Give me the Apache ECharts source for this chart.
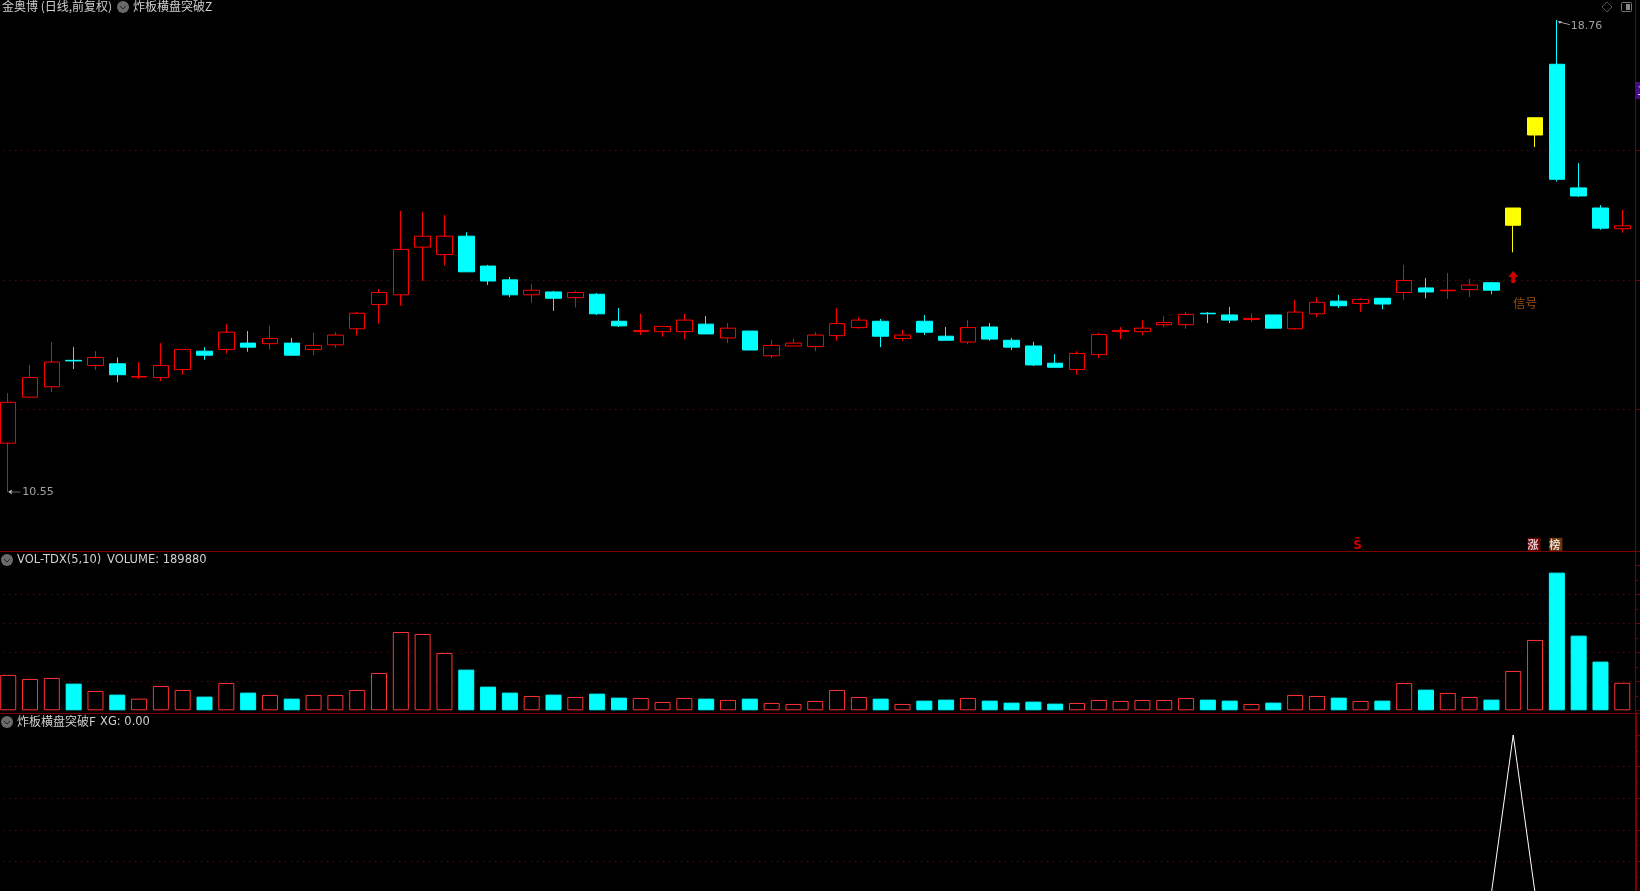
<!DOCTYPE html>
<html>
<head>
<meta charset="utf-8">
<title>金奥博</title>
<style>
	html, body { margin: 0; padding: 0; background: #000; }
	#chart { width: 1640px; height: 891px; }
</style>
<script src="https://cdn.jsdelivr.net/npm/echarts@6/dist/echarts.min.js"></script>
</head>
<body>
<div id="chart"></div>
<script>
// daily candles
const opens = [11.40,12.20,12.38,12.84,12.75,12.78,12.55,12.54,12.68,13.00,13.03,13.14,13.13,13.14,13.03,13.11,13.39,13.81,13.98,14.81,14.68,15.00,14.48,14.24,13.98,14.03,13.93,13.99,13.52,13.34,13.34,13.34,13.47,13.23,13.35,12.92,13.09,13.08,13.27,13.41,13.52,13.22,13.52,13.26,13.16,13.42,13.19,13.09,12.79,12.68,12.94,13.34,13.34,13.46,13.46,13.66,13.63,13.55,13.63,13.39,13.65,13.87,13.83,13.92,14.02,14.10,14.05,14.07,14.19,15.19,16.76,17.99,15.84,15.49,15.13]
const closes = [12.11,12.54,12.81,12.83,12.89,12.59,12.56,12.75,13.03,12.93,13.33,13.07,13.22,12.93,13.10,13.28,13.66,14.02,14.77,15.00,15.00,14.38,14.22,13.98,14.06,13.92,14.02,13.65,13.44,13.36,13.43,13.54,13.30,13.40,13.02,13.10,13.14,13.28,13.48,13.54,13.26,13.28,13.33,13.19,13.41,13.21,13.07,12.76,12.72,12.96,13.29,13.36,13.40,13.50,13.64,13.65,13.54,13.57,13.40,13.68,13.85,13.79,13.90,13.82,14.23,14.03,14.06,14.15,14.06,15.49,17.06,15.99,15.70,15.14,15.18]
const lows = [10.55,12.20,12.29,12.69,12.67,12.46,12.52,12.48,12.59,12.85,12.96,12.99,13.03,12.93,12.93,13.06,13.27,13.48,13.79,14.22,14.49,14.38,14.15,13.94,13.84,13.70,13.76,13.63,13.42,13.28,13.25,13.21,13.30,13.14,13.02,12.88,13.09,13.00,13.18,13.39,13.07,13.18,13.28,13.19,13.12,13.18,13.02,12.74,12.72,12.59,12.88,13.21,13.28,13.42,13.39,13.49,13.49,13.51,13.39,13.37,13.59,13.75,13.68,13.73,13.89,13.92,13.91,13.94,13.99,14.72,16.55,15.95,15.68,15.11,15.06]
const highs = [12.27,12.76,13.16,13.07,13.00,12.89,12.81,13.14,13.03,13.07,13.47,13.35,13.44,13.23,13.32,13.33,13.68,14.08,15.44,15.42,15.37,15.07,14.50,14.29,14.17,14.05,14.05,14.01,13.75,13.65,13.43,13.65,13.61,13.49,13.35,13.19,13.21,13.33,13.75,13.59,13.56,13.37,13.63,13.42,13.54,13.49,13.23,13.16,12.95,13.00,13.32,13.42,13.54,13.61,13.68,13.68,13.77,13.66,13.63,13.89,13.94,13.98,13.92,13.92,14.50,14.27,14.36,14.26,14.20,15.49,17.06,18.76,16.27,15.54,15.46]
const volumes = [243800,216100,223000,183900,133300,108000,80500,167800,140200,94300,188500,121800,105800,80500,105800,105800,140200,257500,540200,526500,395400,280500,163200,121800,98900,108000,92000,115000,87400,85100,57500,85100,80500,71300,80500,50600,43700,64400,140200,92000,80500,43700,66700,73600,85100,66700,52900,59800,46000,50600,71300,64400,71300,71300,85100,73600,66700,43700,52900,105800,98900,87400,64400,66700,188500,142500,119600,92000,73600,271300,485100,949400,514900,335700,189880]
const xgValues = [0,0,0,0,0,0,0,0,0,0,0,0,0,0,0,0,0,0,0,0,0,0,0,0,0,0,0,0,0,0,0,0,0,0,0,0,0,0,0,0,0,0,0,0,0,0,0,0,0,0,0,0,0,0,0,0,0,0,0,0,0,0,0,0,0,0,0,0,0,1,0,0,0,0,0]
const days = opens.map((v, i) => i)

const priceLevels = [11.99, 14.23, 16.49]
const limitUpDays = [69, 70]
const signalDay = 69
const signalPrice = 14.29
const lowDay = 0
const lowPrice = 10.55
const highDay = 71
const highPrice = 18.76
const stripPrice = 9.64
const sDay = 62
const zhangDay = 70
const bangDay = 71

const RED = '#ff0000'
const CYAN = '#00ffff'
const YELLOW = '#ffff00'
const VOL_RED = '#ff3232'
const DARK_RED = '#800000'
const FONT = '"Noto Sans CJK SC", "Noto Sans", sans-serif'
const LATIN = '"DejaVu Sans", sans-serif'

const dotStyle = { type: [1, 5], color: '#990000', width: 1 }
const dotted = { show: true, showMinLine: false, showMaxLine: false, lineStyle: dotStyle }

const candles = days.map(i => {
	const item = { value: [opens[i], closes[i], lows[i], highs[i]] }
	if (limitUpDays.includes(i)) {
		item.itemStyle = { color: YELLOW, borderColor: YELLOW }
	}
	return item
})

const volumeBars = days.map(i => {
	const up = closes[i] >= opens[i]
	return {
		value: volumes[i],
		itemStyle: up
			? { color: '#000', borderColor: VOL_RED, borderWidth: 1 }
			: { color: CYAN, borderColor: CYAN, borderWidth: 1 }
	}
})

// small round chevron button in front of the pane titles
function chevron(x, y) {
	return [
		{ type: 'circle', shape: { cx: x, cy: y, r: 6 }, style: { fill: '#6a6a6a' } },
		{ type: 'polyline', shape: { points: [[x - 3, y - 1], [x, y + 2], [x + 3, y - 1]] }, style: { stroke: '#222', lineWidth: 1, fill: null } }
	]
}

function rule(x1, y1, x2, y2, width) {
	return { type: 'line', shape: { x1, y1, x2, y2 }, style: { stroke: DARK_RED, lineWidth: width || 1 }, z: 20 }
}

const titleStyle = { color: '#d0d0d0', fontSize: 12, fontFamily: FONT, fontWeight: 'normal' }
const latinTitle = { color: '#d0d0d0', fontSize: 11.5, fontFamily: LATIN, fontWeight: 'normal' }

const option = {
	backgroundColor: '#000',
	animation: false,
	title: [
		{ text: '金奥博 (日线,前复权)', left: 2, top: 0, padding: 0, textStyle: titleStyle },
		{ text: '炸板横盘突破Z', left: 133, top: 0, padding: 0, textStyle: titleStyle },
		{ text: 'VOL-TDX(5,10)', left: 17, top: 554, padding: 0, textStyle: latinTitle },
		{ text: 'VOLUME: 189880', left: 107, top: 554, padding: 0, textStyle: latinTitle },
		{ text: '炸板横盘突破F', left: 17, top: 715, padding: 0, textStyle: titleStyle },
		{ text: 'XG: 0.00', left: 100, top: 716, padding: 0, textStyle: latinTitle }
	],
	grid: [
		{ left: -2.7, width: 1635.9, top: 0, height: 551, outerBoundsMode: 'none' },
		{ left: -2.7, width: 1635.9, top: 565.3, height: 145, outerBoundsMode: 'none' },
		{ left: -2.7, width: 1635.9, top: 735, height: 158, outerBoundsMode: 'none' }
	],
	xAxis: [0, 1, 2].map(g => ({
		type: 'category',
		gridIndex: g,
		data: days,
		boundaryGap: true,
		show: false
	})),
	yAxis: [
		{
			type: 'value',
			gridIndex: 0,
			position: 'right',
			offset: 2,
			min: 9.524,
			max: 19.108,
			axisLine: { show: false },
			axisTick: { show: true, length: 5, customValues: priceLevels, lineStyle: { color: DARK_RED } },
			axisLabel: { show: false, customValues: priceLevels },
			splitLine: { show: true, lineStyle: dotStyle }
		},
		{
			type: 'value',
			gridIndex: 1,
			position: 'right',
			offset: 2,
			min: 0,
			max: 1000000,
			interval: 200000,
			axisLine: { show: false },
			axisTick: { show: true, length: 5, lineStyle: { color: DARK_RED } },
			minorTick: { show: true, splitNumber: 2, length: 3, lineStyle: { color: DARK_RED } },
			axisLabel: { show: false },
			splitLine: dotted
		},
		{
			type: 'value',
			gridIndex: 2,
			position: 'right',
			offset: 2,
			min: 0,
			max: 1,
			interval: 0.2,
			axisLine: { show: false },
			axisTick: { show: true, length: 5, lineStyle: { color: DARK_RED } },
			minorTick: { show: true, splitNumber: 2, length: 3, lineStyle: { color: DARK_RED } },
			axisLabel: { show: false },
			splitLine: dotted
		}
	],
	series: [
		{
			name: '炸板横盘突破Z',
			type: 'candlestick',
			xAxisIndex: 0,
			yAxisIndex: 0,
			barWidth: 16,
			clip: false,
			itemStyle: {
				color: '#000',
				color0: CYAN,
				borderColor: RED,
				borderColor0: CYAN,
				borderColorDoji: RED,
				borderWidth: 1
			},
			data: candles
		},
		{
			// low marker
			type: 'scatter',
			xAxisIndex: 0,
			yAxisIndex: 0,
			symbol: 'path://M0 3L4 0L3 3L12 3L12 4L3 4L4 7Z',
			symbolSize: [12, 5],
			symbolOffset: [6, 0],
			itemStyle: { color: '#fff' },
			label: { show: true, position: 'right', distance: 0, offset: [2, 0], formatter: String(lowPrice), color: '#c8c8c8', fontSize: 11, fontFamily: LATIN },
			data: [[lowDay, lowPrice]]
		},
		{
			// high marker
			type: 'scatter',
			xAxisIndex: 0,
			yAxisIndex: 0,
			symbol: 'path://M0 0L4 0.6L2 3ZM2 0.8L12 3.6L12 4.4L2 1.6Z',
			symbolSize: [12, 4],
			symbolOffset: [7, 3],
			itemStyle: { color: '#fff' },
			label: { show: true, position: 'right', distance: 0, offset: [1, 3], formatter: String(highPrice), color: '#c8c8c8', fontSize: 11, fontFamily: LATIN },
			data: [[highDay, highPrice]]
		},
		{
			// signal arrow
			type: 'scatter',
			xAxisIndex: 0,
			yAxisIndex: 0,
			symbol: 'path://M5 0L10 6L7 6L7 12L3 12L3 6L0 6Z',
			symbolSize: [10, 12],
			itemStyle: { color: RED },
			label: { show: true, position: 'inside', offset: [12, 26], formatter: '信号', color: '#b86414', fontSize: 12, fontFamily: FONT },
			data: [[signalDay, signalPrice]]
		},
		{
			// strip of small flags above the volume pane
			type: 'scatter',
			xAxisIndex: 0,
			yAxisIndex: 0,
			symbol: 'rect',
			symbolSize: 13,
			symbolOffset: [-1, 0],
			clip: false,
			label: { show: true, position: 'inside', offset: [-1, 0], color: '#fff', fontSize: 11, fontFamily: FONT, fontWeight: 'bold' },
			data: [
				{ value: [zhangDay, stripPrice], itemStyle: { color: '#8b0000' }, label: { formatter: '涨' } },
				{ value: [bangDay, stripPrice], itemStyle: { color: '#8b4513' }, label: { formatter: '榜' } },
				{
					value: [sDay, stripPrice],
					symbolSize: 1,
					itemStyle: { color: 'rgba(0,0,0,0)' },
					label: { formatter: 'Ŝ', color: RED, fontSize: 12, offset: [-2, 2], fontFamily: LATIN }
				}
			]
		},
		{
			name: 'VOLUME',
			type: 'bar',
			xAxisIndex: 1,
			yAxisIndex: 1,
			barWidth: 16,
			data: volumeBars
		},
		{
			name: 'XG',
			type: 'line',
			xAxisIndex: 2,
			yAxisIndex: 2,
			showSymbol: false,
			clip: false,
			lineStyle: { color: '#fff', width: 1 },
			data: xgValues
		}
	],
	graphic: [
		...chevron(123, 7),
		...chevron(7, 560),
		...chevron(7, 722),
		rule(0, 551.5, 1640, 551.5),
		rule(0, 713.5, 1640, 713.5),
		rule(1635.5, 0, 1635.5, 713),
		rule(1636, 713, 1636, 891, 2),
		{ type: 'rect', shape: { x: 1636, y: 82, width: 4, height: 17 }, style: { fill: '#4b0a8c' }, z: 21 },
		{ type: 'text', x: 1637, y: 84, style: { text: '1', fill: '#d8d8ff', fontSize: 12, fontFamily: FONT }, z: 22 },
		// top right window buttons
		{ type: 'polygon', shape: { points: [[1607, 2], [1612, 7], [1607, 12], [1602, 7]] }, style: { stroke: '#555', fill: null, lineWidth: 1 } },
		{ type: 'rect', shape: { x: 1621.5, y: 2.5, width: 10, height: 9, r: 1 }, style: { stroke: '#777', fill: null, lineWidth: 1 } },
		{ type: 'rect', shape: { x: 1626, y: 4, width: 4, height: 6 }, style: { fill: '#888' } }
	]
}

const myChart = echarts.init(document.getElementById('chart'), null, { renderer: 'canvas' })
myChart.setOption(option)
window.addEventListener('resize', function () {
	myChart.resize()
})
</script>
</body>
</html>
